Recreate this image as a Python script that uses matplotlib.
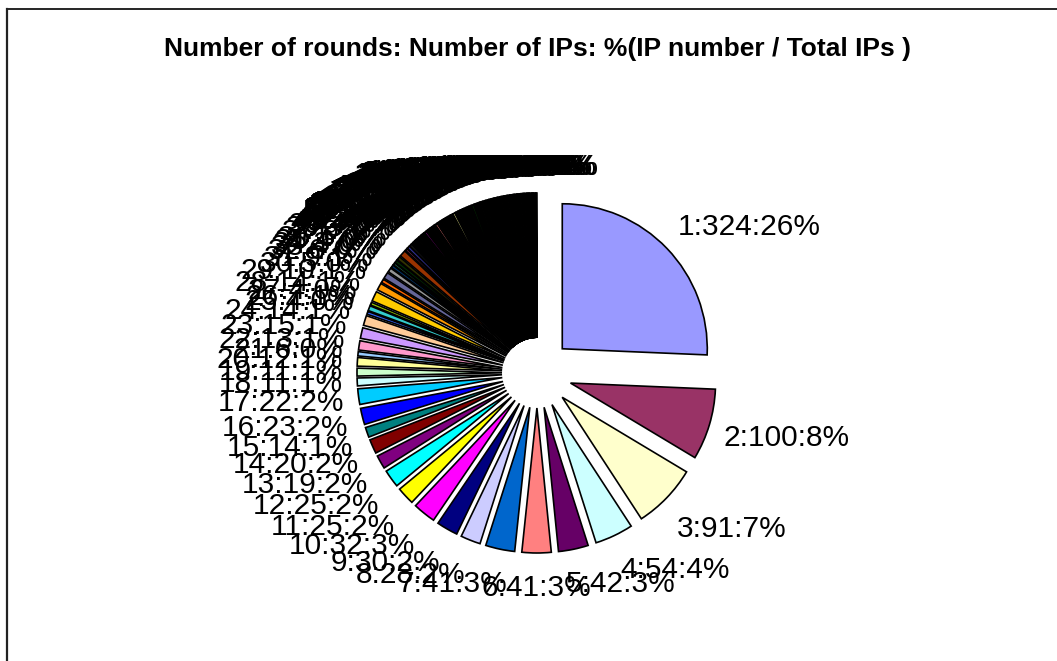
import numpy as np
import matplotlib
matplotlib.use("Agg")
import matplotlib.pyplot as plt
from matplotlib.lines import Line2D

# counts of IPs per number of rounds (rounds = 1..N)
head_counts = [324, 100, 91, 54, 42, 41, 41, 28, 30, 32,
               25, 25, 19, 20, 14, 23, 22, 11, 11, 12,
               6, 13, 15, 14, 4, 7, 4, 14, 10, 5,
               9, 6, 4, 3, 4, 5, 9, 3, 4, 3,
               3, 2, 1, 1, 2, 2]
tail_counts = [1, 2, 1, 1, 2, 1, 3, 2, 1, 2,
               1, 2, 2, 1, 1, 3, 1, 2, 1, 2,
               2, 1, 2, 1, 2, 2, 1, 1, 2, 3,
               1, 2, 1, 2, 1, 2, 1, 1, 2, 1,
               2, 1, 2, 1, 3, 1, 2, 2, 1, 1,
               1, 2, 1, 2, 1, 2, 1, 1, 2, 1,
               2, 1, 1, 2, 1, 2, 1, 1, 2, 1,
               1, 2, 1, 2, 1, 1, 2, 1, 1, 2,
               1, 1, 2, 1, 2, 1, 1, 2, 1, 1,
               1, 1, 2, 1, 1, 2, 1, 1]
counts = head_counts + tail_counts
rounds = list(range(1, len(counts) + 1))

# old excel chart palette
palette = ["#9999FF", "#993366", "#FFFFCC", "#CCFFFF", "#660066", "#FF8080", "#0066CC", "#CCCCFF",
           "#000080", "#FF00FF", "#FFFF00", "#00FFFF", "#800080", "#800000", "#008080", "#0000FF",
           "#00CCFF", "#CCFFFF", "#CCFFCC", "#FFFF99", "#99CCFF", "#FF99CC", "#CC99FF", "#FFCC99",
           "#3366FF", "#33CCCC", "#99CC00", "#FFCC00", "#FF9900", "#FF6600", "#666699", "#969696",
           "#003366", "#339966", "#003300", "#333300", "#993300", "#993366", "#333399", "#333333",
           "#000000", "#FFFFFF", "#FF0000", "#00FF00", "#0000FF", "#FFFF00", "#FF00FF", "#00FFFF",
           "#800000", "#008000", "#000080", "#808000", "#800080", "#008080", "#C0C0C0", "#808080"]
colors = [palette[i % len(palette)] for i in range(len(counts))]

total = sum(counts)
labels = ["{}:{}:{:.0f}%".format(r, c, 100.0 * c / total) for r, c in zip(rounds, counts)]

W, H = 1057, 661
fig = plt.figure(figsize=(W / 100, H / 100), dpi=100)
ax = fig.add_axes([0, 0, 1, 1])

cx, cy = 537, H - 373
radius = 145
wedges, _ = ax.pie(counts, explode=[35] * len(counts), colors=colors, startangle=90,
                   counterclock=False, radius=radius, center=(cx, cy), frame=True,
                   wedgeprops=dict(edgecolor="black", linewidth=1.2))
ax.set_xlim(0, W)
ax.set_ylim(0, H)
ax.set_aspect("auto")
ax.axis("off")

# labels outside end; box slides off the anchor point depending on the angle
texts = []
for w, lab in zip(wedges, labels):
    th = np.deg2rad(0.5 * (w.theta1 + w.theta2))
    x0, y0 = w.center
    px = x0 + 1.1 * radius * np.cos(th)
    py = y0 + 1.1 * radius * np.sin(th)
    t = ax.text(px, py, lab, ha="center", va="center", fontsize=21.5,
                family="Liberation Sans", color="black")
    texts.append((t, th, px, py))

fig.canvas.draw()
r = fig.canvas.get_renderer()
for t, th, px, py in texts:
    bb = t.get_window_extent(renderer=r)
    fx = np.clip(4 * np.cos(th), -1, 1)
    fy = np.clip(1.5 * np.sin(th), -1, 1)
    ky = 0.42 if fy > 0 else 0.75  # lower labels sit a bit further out
    t.set_position((px + 0.5 * bb.width * fx, py + ky * bb.height * fy))

fig.text(537 / W, 1 - 49 / H, "Number of rounds: Number of IPs: %(IP number / Total IPs )",
         ha="center", va="center", fontsize=19, fontweight="bold", family="Liberation Sans")

# chart area border (only top and left edges fall inside the picture)
fig.add_artist(Line2D([7 / W, 1.0], [1 - 9 / H, 1 - 9 / H], color="black", linewidth=1.2))
fig.add_artist(Line2D([7 / W, 7 / W], [0.0, 1 - 9 / H], color="#222222", linewidth=1.6))

fig.savefig("out.png", dpi=100)
